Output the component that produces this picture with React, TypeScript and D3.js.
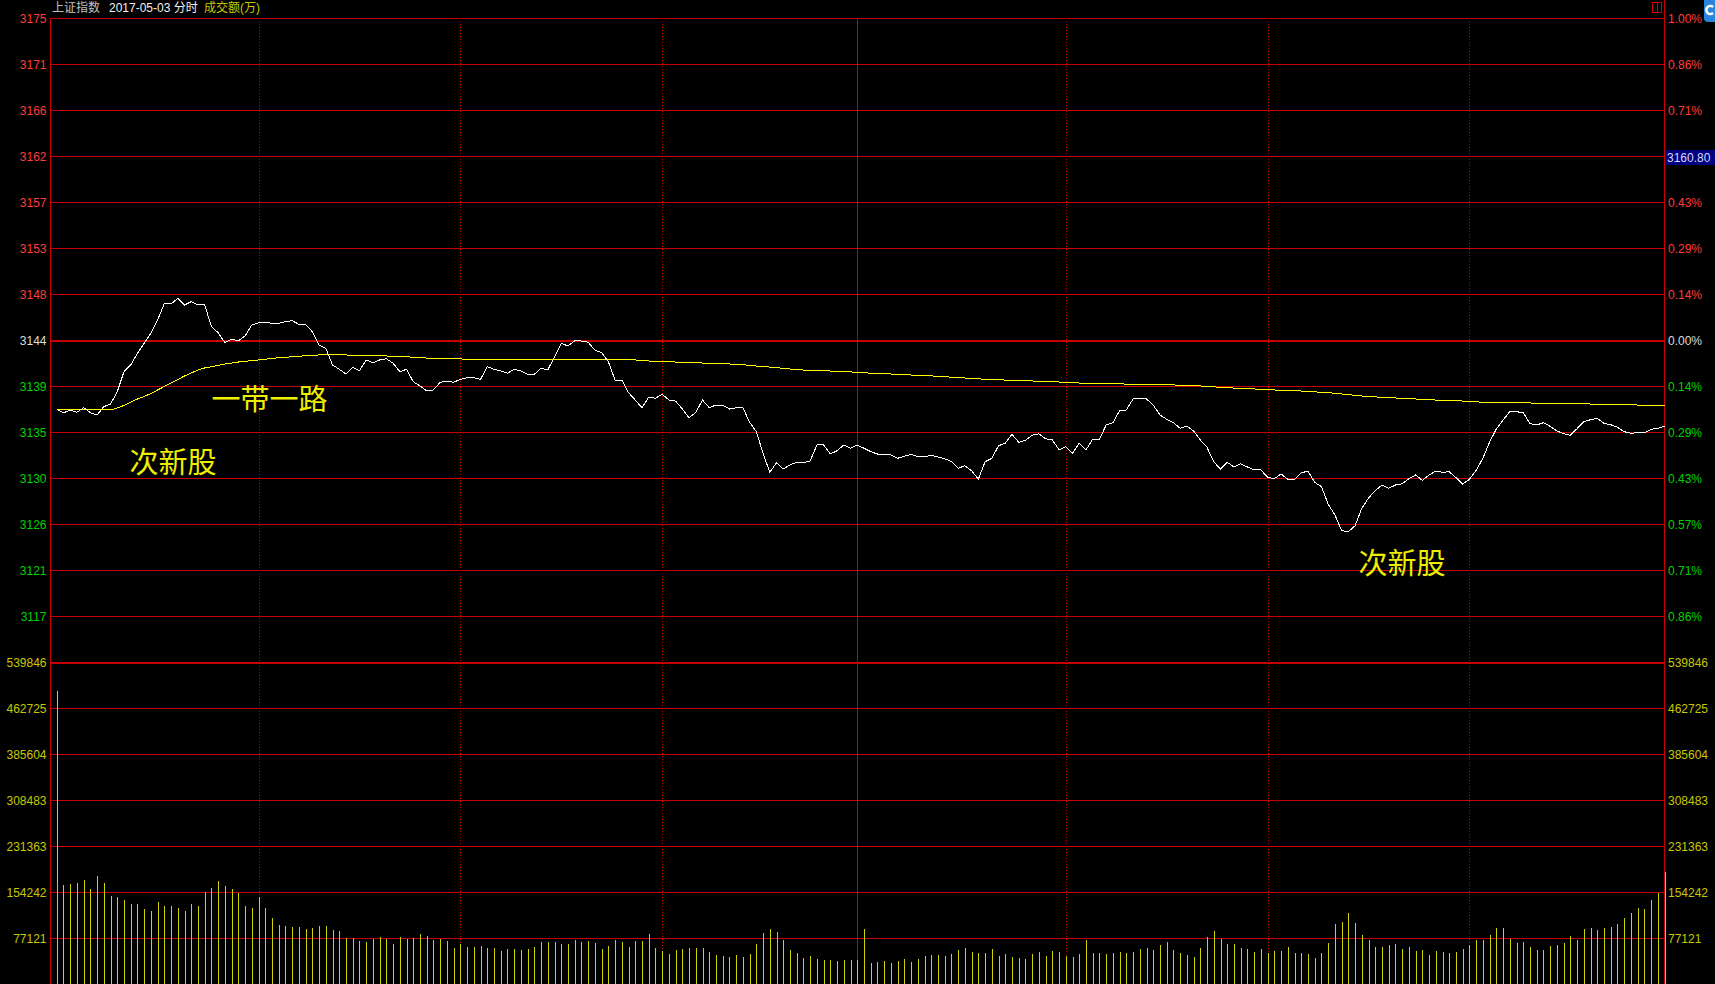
import React, { useEffect } from 'react';
import * as d3 from 'd3';

// ---------- data ----------
const title = '上证指数';
const dateLabel = '2017-05-03 分时';
const volumeTitle = '成交额(万)';
const prevClose = 3143.71;
const cursorLabel = '3160.80';
const cursorLevel = 4; // grid level (x 1/7 %) where the cursor box sits

// one point per minute: 9:31-11:30, 13:01-15:00
const price = [
  3136.94, 3136.61, 3136.85, 3136.65, 3137.10, 3136.61, 3136.39, 3137.20, 3137.46, 3138.66,
  3140.62, 3141.27, 3142.41, 3143.39, 3144.36, 3145.66, 3147.29, 3147.22, 3147.78, 3147.13,
  3147.45, 3147.13, 3147.13, 3145.01, 3144.42, 3143.45, 3143.78, 3143.64, 3144.10, 3145.17,
  3145.40, 3145.44, 3145.34, 3145.34, 3145.50, 3145.59, 3145.24, 3145.24, 3144.52, 3143.22,
  3142.90, 3141.27, 3140.85, 3140.39, 3141.04, 3140.71, 3141.76, 3141.49, 3141.76, 3141.88,
  3141.44, 3140.62, 3140.85, 3139.64, 3139.22, 3138.73, 3138.83, 3139.58, 3139.68, 3139.58,
  3139.87, 3140.03, 3140.03, 3139.87, 3141.10, 3140.85, 3140.68, 3140.46, 3140.85, 3140.68,
  3140.36, 3140.36, 3140.95, 3140.78, 3142.08, 3143.39, 3143.12, 3143.64, 3143.61, 3143.49,
  3142.73, 3142.47, 3141.59, 3139.80, 3139.80, 3138.57, 3137.85, 3137.10, 3138.12, 3138.02,
  3138.41, 3137.85, 3137.75, 3136.97, 3136.12, 3136.65, 3137.85, 3137.10, 3137.36, 3137.36,
  3136.97, 3137.10, 3137.10, 3135.68, 3134.76, 3132.65, 3130.79, 3131.73, 3131.12, 3131.51,
  3131.77, 3131.73, 3131.90, 3133.46, 3133.46, 3132.58, 3132.90, 3133.46, 3133.14, 3133.46,
  3133.14, 3132.81, 3132.58, 3132.58, 3132.48, 3132.16, 3132.36, 3132.55, 3132.32, 3132.32,
  3132.45, 3132.29, 3132.12, 3131.83, 3131.18, 3131.44, 3130.95, 3130.11, 3131.83, 3132.16,
  3133.39, 3133.63, 3134.50, 3133.72, 3133.92, 3134.41, 3134.56, 3134.07, 3133.95, 3133.00,
  3133.29, 3132.65, 3133.63, 3132.97, 3134.02, 3134.02, 3135.41, 3135.64, 3136.81, 3136.88,
  3137.95, 3138.02, 3137.95, 3137.36, 3136.39, 3135.97, 3135.64, 3135.09, 3135.31, 3134.83,
  3133.95, 3133.23, 3131.80, 3131.12, 3131.77, 3131.31, 3131.63, 3131.31, 3131.02, 3131.02,
  3130.31, 3130.17, 3130.63, 3130.11, 3130.11, 3130.73, 3130.92, 3129.82, 3129.39, 3127.70,
  3126.63, 3125.11, 3124.99, 3125.58, 3127.28, 3128.28, 3129.00, 3129.55, 3129.23, 3129.55,
  3129.68, 3130.17, 3130.53, 3130.01, 3130.53, 3130.92, 3130.79, 3130.85, 3130.27, 3129.65,
  3130.11, 3130.99, 3132.16, 3133.75, 3135.02, 3135.90, 3136.71, 3136.71, 3136.61, 3135.54,
  3135.41, 3135.64, 3135.28, 3134.83, 3134.56, 3134.41, 3135.05, 3135.73, 3135.93, 3136.07,
  3135.58, 3135.44, 3135.19, 3134.76, 3134.60, 3134.66, 3134.66, 3134.99, 3135.09, 3135.31,
];

const avgPrice = [
  3136.94, 3136.92, 3136.91, 3136.90, 3136.90, 3136.89, 3136.88, 3136.88, 3136.88, 3137.07,
  3137.32, 3137.66, 3137.95, 3138.19, 3138.49, 3138.83, 3139.17, 3139.51, 3139.85, 3140.20,
  3140.49, 3140.78, 3140.98, 3141.10, 3141.24, 3141.37, 3141.46, 3141.56, 3141.63, 3141.69,
  3141.76, 3141.83, 3141.92, 3141.98, 3142.02, 3142.08, 3142.12, 3142.18, 3142.22, 3142.25,
  3142.27, 3142.27, 3142.27, 3142.25, 3142.22, 3142.22, 3142.18, 3142.15, 3142.15, 3142.15,
  3142.12, 3142.12, 3142.08, 3142.02, 3141.98, 3141.95, 3141.92, 3141.92, 3141.88, 3141.86,
  3141.86, 3141.83, 3141.83, 3141.79, 3141.79, 3141.79, 3141.76, 3141.76, 3141.76, 3141.76,
  3141.76, 3141.76, 3141.76, 3141.79, 3141.83, 3141.83, 3141.83, 3141.83, 3141.83, 3141.83,
  3141.83, 3141.83, 3141.83, 3141.83, 3141.83, 3141.83, 3141.76, 3141.73, 3141.66, 3141.63,
  3141.61, 3141.59, 3141.56, 3141.53, 3141.51, 3141.49, 3141.46, 3141.44, 3141.42, 3141.40,
  3141.37, 3141.34, 3141.30, 3141.24, 3141.17, 3141.12, 3141.07, 3141.01, 3140.95, 3140.88,
  3140.83, 3140.78, 3140.76, 3140.73, 3140.71, 3140.68, 3140.65, 3140.62, 3140.59, 3140.56,
  3140.52, 3140.47, 3140.44, 3140.41, 3140.39, 3140.36, 3140.33, 3140.29, 3140.26, 3140.23,
  3140.20, 3140.17, 3140.13, 3140.08, 3140.04, 3140.00, 3139.97, 3139.92, 3139.87, 3139.85,
  3139.82, 3139.80, 3139.78, 3139.76, 3139.73, 3139.71, 3139.68, 3139.66, 3139.63, 3139.61,
  3139.58, 3139.55, 3139.51, 3139.48, 3139.47, 3139.46, 3139.45, 3139.43, 3139.42, 3139.41,
  3139.39, 3139.38, 3139.37, 3139.36, 3139.35, 3139.33, 3139.32, 3139.30, 3139.29, 3139.25,
  3139.22, 3139.19, 3139.14, 3139.09, 3139.06, 3139.02, 3138.99, 3138.97, 3138.93, 3138.90,
  3138.87, 3138.83, 3138.80, 3138.78, 3138.75, 3138.73, 3138.70, 3138.65, 3138.60, 3138.56,
  3138.51, 3138.44, 3138.37, 3138.31, 3138.24, 3138.19, 3138.15, 3138.12, 3138.08, 3138.05,
  3138.02, 3137.98, 3137.95, 3137.92, 3137.87, 3137.85, 3137.82, 3137.80, 3137.77, 3137.75,
  3137.73, 3137.68, 3137.63, 3137.62, 3137.61, 3137.60, 3137.59, 3137.58, 3137.57, 3137.56,
  3137.55, 3137.53, 3137.52, 3137.51, 3137.50, 3137.49, 3137.48, 3137.47, 3137.46, 3137.45,
  3137.43, 3137.42, 3137.41, 3137.39, 3137.38, 3137.36, 3137.33, 3137.33, 3137.33, 3137.33,
];

// turnover per minute, 万
const volume = [
  492000, 166000, 168000, 170000, 175000, 160000, 181000, 170000, 148000, 146000,
  141000, 134000, 134000, 126000, 123000, 138000, 131000, 131000, 128000, 123000,
  134000, 131000, 155000, 161000, 173000, 165000, 160000, 153000, 131000, 128000,
  146000, 128000, 111000, 99000, 97000, 96000, 96000, 92400, 94000, 97400,
  97400, 90700, 89000, 77300, 77300, 72200, 70600, 75600, 79000, 75600,
  67200, 79000, 75600, 77300, 84000, 80600, 73900, 75600, 72200, 60500,
  67200, 62200, 62200, 63800, 60500, 60500, 55400, 58800, 58800, 57100,
  58800, 62200, 70600, 70600, 70600, 67200, 67200, 73900, 70600, 72200,
  68900, 58800, 63800, 73900, 70600, 62200, 72200, 72200, 84000, 60500,
  55400, 50400, 57100, 58800, 60500, 60500, 60500, 53800, 48700, 47000,
  45400, 48700, 45400, 50400, 67200, 85700, 92400, 87400, 73900, 57100,
  52100, 43700, 47000, 42000, 40300, 40300, 38600, 40300, 40300, 40300,
  92400, 35300, 37000, 38600, 35300, 38600, 42000, 37000, 42000, 47000,
  48700, 48700, 47000, 50400, 57100, 60500, 53800, 52100, 52100, 58800,
  47000, 50400, 45400, 43700, 42000, 50400, 53800, 47000, 55400, 53800,
  47000, 45400, 50400, 73900, 52100, 52100, 50400, 52100, 53800, 52100,
  53800, 58800, 60500, 57100, 65500, 70600, 57100, 52100, 48700, 45400,
  60500, 79000, 89000, 75600, 67200, 67200, 60500, 58800, 53800, 58800,
  52100, 55400, 55400, 62200, 52100, 52100, 50400, 43700, 52100, 68900,
  100800, 104000, 119300, 102500, 82300, 73900, 62200, 62200, 65500, 67200,
  58800, 62200, 55400, 57100, 48700, 55400, 53800, 52100, 53800, 58800,
  65500, 73900, 73900, 82300, 94000, 94000, 75600, 68900, 70600, 62200,
  57100, 57100, 63800, 65500, 68900, 80600, 73900, 92400, 94000, 90700,
  94000, 95800, 100800, 110900, 119300, 127700, 126000, 141000, 152900, 187000,
];

const priceTickLabels = ['3175', '3171', '3166', '3162', '3157', '3153', '3148', '3144', '3139', '3135', '3130', '3126', '3121', '3117'];
const pctTickLabels = ['1.00%', '0.86%', '0.71%', '0.57%', '0.43%', '0.29%', '0.14%', '0.00%', '0.14%', '0.29%', '0.43%', '0.57%', '0.71%', '0.86%'];
const volTickLabels = ['539846', '462725', '385604', '308483', '231363', '154242', '77121'];
const volMax = 539846;
// minute indices of the half-hour grid lines (10:00, 10:30, 11:00, 11:30/13:00, 13:30, 14:00, 14:30)
const timeGridIdx = [30, 60, 90, 119, 150, 180, 210];
const noonIdx = 119;

const annotations = [
  { label: '一带一路', idx: 23.0, price: 3136.85 },
  { label: '次新股', idx: 10.8, price: 3130.75 },
  { label: '次新股', idx: 193.5, price: 3120.9 },
];

// ---------- layout ----------
const W = 1715;
const H = 984;
const LEFT = 50;
const RIGHT = 1664.5;
const TOP = 18;
const MID = 662;
const BOTTOM = 984;

const RED = '#c80000';
const LBL_RED = '#ff3c3c';
const LBL_GREEN = '#00d200';
const LBL_WHITE = '#dcdcdc';
const LBL_YELLOW = '#c8c800';
const NUM_FONT = '"Liberation Sans", "DejaVu Sans", Arial, sans-serif';
const CJK_FONT = '"Liberation Sans", "Noto Sans CJK SC", sans-serif';

export default function App() {
  useEffect(() => {
    document.body.style.margin = '0';
    document.body.style.background = '#000';
    document.body.style.overflow = 'hidden';
  }, []);

  const x = d3.scaleLinear().domain([-1, price.length - 1]).range([LEFT, RIGHT]);
  const yP = d3.scaleLinear().domain([prevClose * 0.99, prevClose * 1.01]).range([MID, TOP]);
  const yV = d3.scaleLinear().domain([0, volMax]).range([BOTTOM, MID]);

  const priceLine = d3.line<number>().x((_, i) => x(i)).y((d) => yP(d));
  const nLevels = priceTickLabels.length; // 14 levels: +7 .. -6 (x 1/7 %)
  const levels = d3.range(nLevels).map((j) => 7 - j);
  const volLevels = d3.range(volTickLabels.length).map((j) => volMax * (7 - j) / 7);

  const crisp = (v: number) => Math.round(v) + 0.5;
  const cursorY = yP(prevClose * (1 + cursorLevel / 700));

  return (
    <svg width={W} height={H} style={{ position: 'absolute', left: 0, top: 0, display: 'block', background: '#000' }}>
      <rect x={0} y={0} width={W} height={H} fill="#000" />

      {/* horizontal price grid */}
      {levels.map((k) => {
        const y = yP(prevClose * (1 + k / 700));
        const thick = k === 0;
        const yy = thick ? Math.round(y) + 1 : crisp(y);
        return (
          <line key={'hp' + k} x1={LEFT} x2={RIGHT} y1={yy} y2={yy}
            stroke={RED} strokeWidth={thick ? 2 : 1} shapeRendering="crispEdges" />
        );
      })}
      {/* horizontal volume grid */}
      {volLevels.map((v, j) => {
        const y = yV(v);
        const thick = j === 0;
        const yy = thick ? Math.round(y) + 1 : crisp(y);
        return (
          <line key={'hv' + j} x1={LEFT} x2={RIGHT} y1={yy} y2={yy}
            stroke={RED} strokeWidth={thick ? 2 : 1} shapeRendering="crispEdges" />
        );
      })}

      {/* vertical time grid */}
      {timeGridIdx.map((t) => (
        <line key={'v' + t} x1={crisp(x(t))} x2={crisp(x(t))} y1={TOP} y2={BOTTOM}
          stroke={RED} strokeWidth={1} strokeDasharray={t === noonIdx ? undefined : '1 2'} shapeRendering="crispEdges" />
      ))}

      {/* borders */}
      <line x1={crisp(LEFT)} x2={crisp(LEFT)} y1={TOP} y2={BOTTOM} stroke={RED} strokeWidth={1} shapeRendering="crispEdges" />
      <line x1={Math.floor(RIGHT) + 0.5} x2={Math.floor(RIGHT) + 0.5} y1={0} y2={BOTTOM} stroke={RED} strokeWidth={1} shapeRendering="crispEdges" />

      {/* volume bars */}
      {volume.map((v, i) => (
        <rect key={'b' + i} x={Math.round(x(i)) - 0.5} y={yV(v)} width={1} height={yV(0) - yV(v)} fill="#d2d200" shapeRendering="crispEdges" />
      ))}

      {/* average price line */}
      <path d={priceLine(avgPrice) || ''} fill="none" stroke="#ffff00" strokeWidth={1} shapeRendering="crispEdges" />
      {/* price line */}
      <path d={priceLine(price) || ''} fill="none" stroke="#ffffff" strokeWidth={1} shapeRendering="crispEdges" />

      {/* left price labels */}
      {levels.map((k, j) => {
        const y = yP(prevClose * (1 + k / 700));
        const col = k > 0 ? LBL_RED : k === 0 ? LBL_WHITE : LBL_GREEN;
        return (
          <text key={'lp' + k} x={46.5} y={y} dy="0.42em" textAnchor="end" fontFamily={NUM_FONT} fontSize={12} fill={col}>
            {priceTickLabels[j]}
          </text>
        );
      })}
      {/* right pct labels (the one under the cursor box is hidden by it) */}
      {levels.map((k, j) => {
        if (k === cursorLevel) return null;
        const y = yP(prevClose * (1 + k / 700));
        const col = k > 0 ? LBL_RED : k === 0 ? LBL_WHITE : LBL_GREEN;
        return (
          <text key={'rp' + k} x={1668} y={y} dy="0.42em" textAnchor="start" fontFamily={NUM_FONT} fontSize={12} fill={col}>
            {pctTickLabels[j]}
          </text>
        );
      })}
      {/* volume labels */}
      {volLevels.map((v, j) => (
        <g key={'vl' + j}>
          <text x={46.5} y={yV(v)} dy="0.42em" textAnchor="end" fontFamily={NUM_FONT} fontSize={12} fill={LBL_YELLOW}>
            {volTickLabels[j]}
          </text>
          <text x={1668} y={yV(v)} dy="0.42em" textAnchor="start" fontFamily={NUM_FONT} fontSize={12} fill={LBL_YELLOW}>
            {volTickLabels[j]}
          </text>
        </g>
      ))}

      {/* cursor value box on right axis */}
      <rect x={1665} y={Math.round(cursorY) - 6} width={50} height={15} fill="#000080" />
      <text x={1667} y={cursorY + 1} dy="0.42em" fontFamily={NUM_FONT} fontSize={12} fill="#d8d8ff">
        {cursorLabel}
      </text>

      {/* header */}
      <text x={52} y={12} fontFamily={CJK_FONT} fontSize={12} fill="#c0c0c0">{title}</text>
      <text x={109} y={12} fontFamily={CJK_FONT} fontSize={12} fill="#f0f0f0">{dateLabel}</text>
      <text x={204} y={12} fontFamily={CJK_FONT} fontSize={12} fill={LBL_YELLOW}>{volumeTitle}</text>

      {/* small icons top right */}
      <rect x={1652.5} y={2.5} width={9} height={10} fill="none" stroke="#d00000" strokeWidth={1} shapeRendering="crispEdges" />
      <line x1={1657.5} x2={1657.5} y1={2.5} y2={12.5} stroke="#d00000" strokeWidth={1} shapeRendering="crispEdges" />
      <rect x={1704} y={-5} width={20} height={27} rx={4} fill="#2a86dc" />
      <path d="M1713 7 a4 4 0 1 0 0 6" fill="none" stroke="#fff" strokeWidth={2.5} />

      {/* annotations */}
      {annotations.map((a, i) => (
        <text key={'an' + i} x={x(a.idx)} y={yP(a.price)} fontFamily='"Noto Sans CJK SC", sans-serif' fontSize={29} fill="#eeee00">
          {a.label}
        </text>
      ))}
    </svg>
  );
}
